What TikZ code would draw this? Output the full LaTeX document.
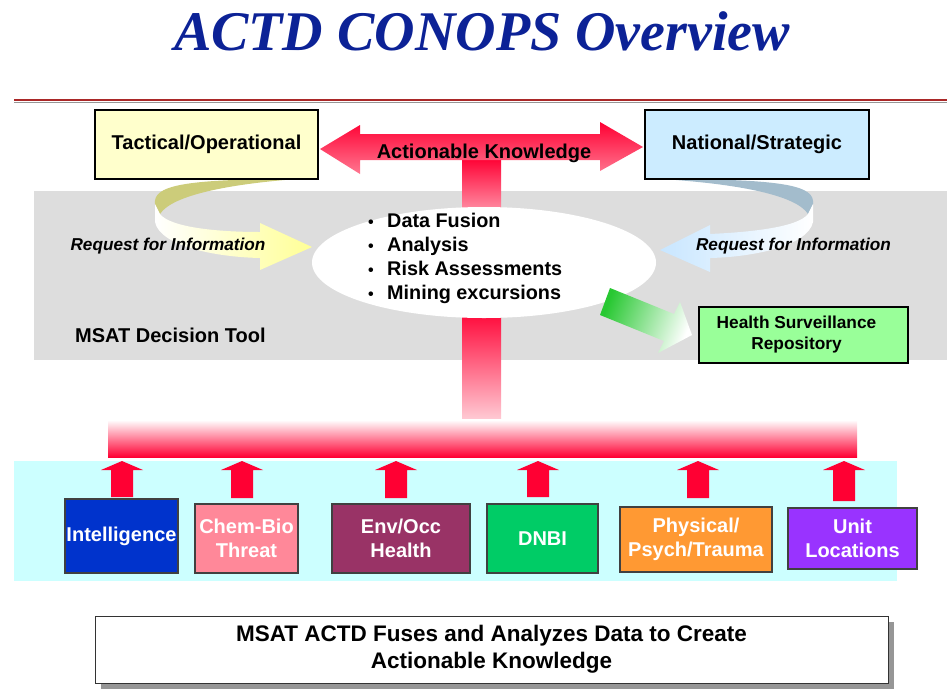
\documentclass[tikz,border=0pt]{standalone}
\usepackage{fontspec}
\setmainfont{Liberation Sans}
\newfontfamily\titlefont{Liberation Serif}
\usetikzlibrary{shapes.geometric}

\definecolor{titleblue}{RGB}{12,34,150}
\definecolor{rulered}{RGB}{170,40,40}
\definecolor{bandgrey}{RGB}{221,221,221}
\definecolor{srccyan}{RGB}{204,255,255}
\definecolor{tactyellow}{RGB}{255,255,204}
\definecolor{natblue}{RGB}{204,236,255}
\definecolor{hsrgreen}{RGB}{153,255,153}
\definecolor{arrred}{RGB}{255,0,51}
\definecolor{pinklight}{RGB}{255,200,210}
\definecolor{pinkmid}{RGB}{255,120,145}
\definecolor{olivebk}{RGB}{204,204,122}
\definecolor{steelbk}{RGB}{163,188,204}
\definecolor{rfiyellow}{RGB}{255,255,150}
\definecolor{rfiblue}{RGB}{200,230,255}
\definecolor{hsrarrow}{RGB}{40,200,50}
\definecolor{intelblue}{RGB}{0,51,204}
\definecolor{chempink}{RGB}{255,136,153}
\definecolor{envplum}{RGB}{153,51,102}
\definecolor{dnbigreen}{RGB}{0,204,102}
\definecolor{physorange}{RGB}{255,153,51}
\definecolor{unitpurple}{RGB}{153,51,255}
\definecolor{shadowgrey}{RGB}{150,150,150}

% small red arrow up from a source box: x, shaft bottom
\newcommand{\srcarrow}[2]{%
  \fill[arrred] (#1-21,470) -- (#1,461) -- (#1+21,470) -- (#1+11,470)
    -- (#1+11,#2) -- (#1-11,#2) -- (#1-11,470) -- cycle;}

\begin{document}
\begin{tikzpicture}[x=1pt, y=-1pt,
    box/.style={draw=black, line width=1.1pt, inner sep=0pt, align=center,
      font=\bfseries\fontsize{20}{24}\selectfont},
    srcbox/.style={box, draw=black!75, text=white},
    lbl/.style={inner sep=0pt, font=\bfseries\fontsize{#1}{#1}\selectfont},
    rfi/.style={inner sep=0pt, font=\bfseries\itshape\fontsize{17.2}{17}\selectfont}]
  \useasboundingbox (0,0) rectangle (947,689);

  % Title and rule
  \node[font=\titlefont\bfseries\itshape\fontsize{56}{60}\selectfont, text=titleblue]
    (title) at (482,31) {ACTD CONOPS Overview};
  \draw[shadowgrey, line width=1.5pt] (14,102.5) -- (947,102.5);
  \draw[rulered, line width=2pt] (14,100) -- (947,100);

  % Bands
  \fill[bandgrey] (34,191) rectangle (947,360);
  \fill[srccyan] (14,461) rectangle (897,581);

  % Curved request arrows
  \fill[olivebk] (297,179) .. controls (180,179) and (153,186) .. (155,204)
    -- (160,214) .. controls (172,195) and (230,184) .. (297,179) -- cycle;
  \shade[left color=white, right color=rfiyellow] (155,204) -- (155,222)
    .. controls (160,246) and (215,257) .. (260,258) -- (260,270) -- (312,247)
    -- (260,223) -- (260,232) .. controls (215,232) and (170,227) .. (160,214) -- cycle;
  \fill[steelbk] (662,179) .. controls (788,179) and (815,186) .. (813,204)
    -- (808,214) .. controls (796,195) and (738,184) .. (662,179) -- cycle;
  \shade[left color=rfiblue, right color=white] (813,204) -- (813,222)
    .. controls (808,246) and (753,257) .. (710,258) -- (710,272) -- (660,250)
    -- (710,225) -- (710,234) .. controls (753,232) and (798,227) .. (808,214) -- cycle;

  % Trunk and feeder bar
  \shade[top color=arrred, bottom color=pinklight] (462,158) rectangle (501,232);
  \shade[top color=arrred, bottom color=pinklight] (462,308) rectangle (501,418);
  \shade[top color=white, bottom color=arrred] (108,420) rectangle (857,457);

  % Actionable knowledge arrow
  \shade[top color=arrred, bottom color=pinkmid] (320,149) -- (360,125) -- (360,134)
    -- (600,134) -- (600,122) -- (643,147) -- (600,171) -- (600,160) -- (360,160)
    -- (360,174) -- cycle;
  \node[lbl=20] (ak) at (484,153) {Actionable Knowledge};

  % Boxes
  \node[box, fill=tactyellow, minimum width=223, minimum height=69] (tact) at (206.5,144.5) {\raisebox{-2pt}{Tactical/Operational}};
  \node[box, fill=natblue, minimum width=224, minimum height=69] (nat) at (757,144.5) {\raisebox{-2pt}{National/Strategic}};

  \node[ellipse, fill=white, minimum width=344, minimum height=111, inner sep=0pt] (core) at (484,262.5) {};
  \node[anchor=west, align=left, inner sep=0pt, font=\bfseries\fontsize{19.8}{24}\selectfont] (tasks) at (367,258)
    {\makebox[20pt][l]{\hspace{1pt}\fontsize{16}{16}\selectfont•}Data Fusion\\
     \makebox[20pt][l]{\hspace{1pt}\fontsize{16}{16}\selectfont•}Analysis\\
     \makebox[20pt][l]{\hspace{1pt}\fontsize{16}{16}\selectfont•}Risk Assessments\\
     \makebox[20pt][l]{\hspace{1pt}\fontsize{16}{16}\selectfont•}Mining excursions};

  \node[rfi] (rfil) at (168,246) {Request for Information};
  \node[rfi] (rfir) at (793.5,246) {Request for Information};
  \node[lbl=20, anchor=west] (tool) at (75,335) {MSAT Decision Tool};

  % Repository arrow
  \shade[top color=hsrarrow, bottom color=white, shading angle=69] (610,288) -- (674,314)
    -- (680,302) -- (692,335) -- (658,353) -- (664,341) -- (600,315) -- cycle;
  \node[box, fill=hsrgreen, minimum width=209, minimum height=56,
    font=\bfseries\fontsize{17.3}{21}\selectfont] (hsr) at (803.5,335)
    {Health Surveillance\hspace*{14pt}\\Repository\hspace*{14pt}};

  % Data sources
  \srcarrow{122}{497}
  \srcarrow{242}{498}
  \srcarrow{396}{498}
  \srcarrow{538}{497}
  \srcarrow{698}{498}
  \srcarrow{844}{501}
  \node[srcbox, fill=intelblue, minimum width=113, minimum height=74] (intel) at (121.5,536) {Intelligence};
  \node[srcbox, fill=chempink, minimum width=103, minimum height=69] (chem) at (246.5,538.5) {Chem-Bio\\Threat};
  \node[srcbox, fill=envplum, minimum width=138, minimum height=69] (env) at (401,538.5) {Env/Occ\\Health};
  \node[srcbox, fill=dnbigreen, minimum width=111, minimum height=69] (dnbi) at (542.5,538.5) {DNBI};
  \node[srcbox, fill=physorange, minimum width=152, minimum height=65] (phys) at (696,539.5) {Physical/\\Psych/Trauma};
  \node[srcbox, fill=unitpurple, minimum width=129, minimum height=61] (unit) at (852.5,538.5) {Unit\\Locations};

  % Summary
  \fill[shadowgrey] (101,622) rectangle (894,689);
  \node[draw=black!80, line width=1pt, fill=white, minimum width=793, minimum height=67,
    align=center, font=\bfseries\fontsize{22.5}{27}\selectfont] (summary) at (491.5,649.5)
    {\raisebox{-3pt}{MSAT ACTD Fuses and Analyzes Data to Create}\\\raisebox{-3pt}{Actionable Knowledge}};
\end{tikzpicture}
\end{document}
